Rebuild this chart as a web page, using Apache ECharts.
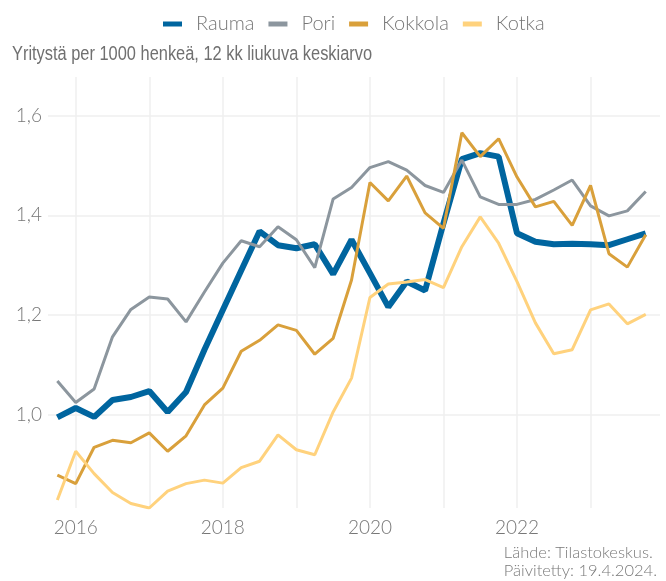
<!DOCTYPE html>
<html>
<head>
<meta charset="utf-8">
<script src="https://cdn.jsdelivr.net/npm/echarts@6/dist/echarts.min.js"></script>
<style>
  html, body { margin: 0; padding: 0; background: #fff; }
  #chart { width: 666px; height: 581px; }
</style>
</head>
<body>
<div id="chart"></div>
<script>
// vuosineljännekset (desimaalivuosina)
var kvartaalit = [2015.75, 2016.0, 2016.25, 2016.5, 2016.75, 2017.0, 2017.25, 2017.5, 2017.75,
  2018.0, 2018.25, 2018.5, 2018.75, 2019.0, 2019.25, 2019.5, 2019.75,
  2020.0, 2020.25, 2020.5, 2020.75, 2021.0, 2021.25, 2021.5, 2021.75,
  2022.0, 2022.25, 2022.5, 2022.75, 2023.0, 2023.25, 2023.5, 2023.75]

var rauma = [0.994, 1.013, 0.995, 1.029, 1.035, 1.047, 1.005, 1.045, 1.13,
  1.21, 1.289, 1.368, 1.340, 1.334, 1.342, 1.282, 1.351,
  1.284, 1.216, 1.267, 1.249, 1.384, 1.513, 1.525, 1.518,
  1.364, 1.347, 1.342, 1.343, 1.342, 1.340, 1.352, 1.364]

var pori = [1.067, 1.024, 1.051, 1.156, 1.211, 1.236, 1.232, 1.186, 1.246,
  1.304, 1.349, 1.337, 1.377, 1.351, 1.295, 1.433, 1.456,
  1.496, 1.508, 1.491, 1.460, 1.446, 1.511, 1.437, 1.422,
  1.422, 1.432, 1.451, 1.471, 1.419, 1.399, 1.409, 1.448]

var kokkola = [0.878, 0.861, 0.934, 0.948, 0.943, 0.963, 0.926, 0.957, 1.019,
  1.053, 1.127, 1.149, 1.180, 1.169, 1.121, 1.153, 1.270,
  1.466, 1.429, 1.479, 1.405, 1.374, 1.566, 1.518, 1.554,
  1.477, 1.417, 1.428, 1.380, 1.460, 1.323, 1.296, 1.361]

var kotka = [0.828, 0.926, 0.881, 0.843, 0.821, 0.812, 0.846, 0.861, 0.868,
  0.862, 0.893, 0.906, 0.959, 0.929, 0.919, 1.005, 1.073,
  1.235, 1.262, 1.266, 1.271, 1.255, 1.337, 1.397, 1.344,
  1.267, 1.184, 1.122, 1.130, 1.210, 1.222, 1.182, 1.201]

var vuosiViivat = [2016, 2017, 2018, 2019, 2020, 2021, 2022, 2023]
var vuosiTekstit = [2016, 2018, 2020, 2022]
var yViivat = [1.0, 1.2, 1.4, 1.6]

function pari(arvot) {
  return kvartaalit.map(function (x, i) { return [x, arvot[i]] })
}

var chart = echarts.init(document.getElementById('chart'), null, {renderer: 'canvas'})

var fontti = 'Lato, "Open Sans", sans-serif'

var option = {
  animation: false,
  graphic: [
    //otsikko, hieman kavennettu
    {
      type: 'text',
      x: 12,
      y: 54,
      scaleX: 0.82,
      style: {
        text: 'Yritystä per 1000 henkeä, 12 kk liukuva keskiarvo',
        verticalAlign: 'middle',
        fontFamily: '"Liberation Sans", Arial, sans-serif', fontSize: 20, fill: '#707070'
      }
    },
    //lähdeteksti oikeaan alakulmaan
    {
      type: 'text',
      right: 9,
      top: 544,
      style: {
        text: 'Lähde: Tilastokeskus.\nPäivitetty: 19.4.2024.',
        align: 'right',
        fontFamily: fontti, fontSize: 16.5, fontWeight: 300, fill: '#7a7a7a', lineHeight: 18
      }
    }
  ],
  legend: {
    top: 9,
    left: 158,
    icon: 'rect',
    itemWidth: 19,
    itemHeight: 5,
    itemGap: 14,
    textStyle: {fontFamily: fontti, fontSize: 20, fontWeight: 300, color: '#777', padding: [0, 0, 0, 9]},
    data: ['Rauma', 'Pori', 'Kokkola', 'Kotka']
  },
  grid: {left: 48, right: 6, top: 77, bottom: 73},
  xAxis: {
    type: 'value',
    min: 2015.623,
    max: 2023.944,
    axisLine: {show: false},
    axisTick: {show: false, customValues: vuosiViivat},
    axisLabel: {
      customValues: vuosiTekstit,
      fontFamily: fontti, fontSize: 19, fontWeight: 300, color: '#777', margin: 10,
      formatter: function (v) { return String(v) }
    },
    splitLine: {show: true, lineStyle: {color: '#efefef', width: 1.5}}
  },
  yAxis: {
    type: 'value',
    min: 0.812,
    max: 1.678,
    axisLine: {show: false},
    axisTick: {show: false, customValues: yViivat},
    axisLabel: {
      customValues: yViivat,
      fontFamily: fontti, fontSize: 19, fontWeight: 300, color: '#777', margin: 6,
      formatter: function (v) { return v.toFixed(1).replace('.', ',') }
    },
    splitLine: {show: true, lineStyle: {color: '#efefef', width: 1.5}}
  },
  series: [
    {name: 'Rauma', type: 'line', data: pari(rauma), showSymbol: false, color: '#00659f', lineStyle: {width: 6}},
    {name: 'Pori', type: 'line', data: pari(pori), showSymbol: false, color: '#8c969e', lineStyle: {width: 3}},
    {name: 'Kokkola', type: 'line', data: pari(kokkola), showSymbol: false, color: '#d9a03b', lineStyle: {width: 3}},
    {name: 'Kotka', type: 'line', data: pari(kotka), showSymbol: false, color: '#ffd27d', lineStyle: {width: 3}}
  ]
}

chart.setOption(option)
</script>
</body>
</html>
